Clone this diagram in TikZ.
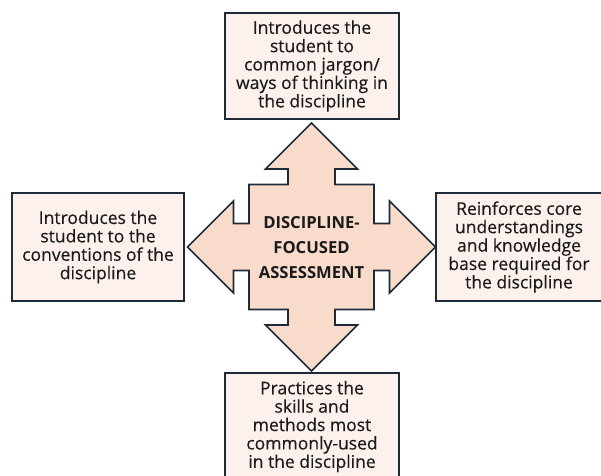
\documentclass[tikz,border=0pt]{standalone}
\usepackage{fontspec}
\setmainfont{Open Sans}
\newfontfamily\boxfont{Open Sans}[FakeBold=0.3]
\definecolor{boxfill}{HTML}{FCF1EC}
\definecolor{centerfill}{HTML}{F9DBCB}
\definecolor{edge}{HTML}{1F2A38}
\definecolor{txt}{HTML}{1A1A1A}
\tikzset{
  infobox/.style={draw=edge, line width=1.6pt, fill=boxfill, rectangle, align=center,
    inner sep=0pt, text=txt, font=\boxfont\fontsize{17.5}{18.4}\selectfont},
  centertext/.style={align=center, inner sep=0pt, text=txt,
    font=\fontsize{16.6}{25}\selectfont\bfseries},
  cross/.style={draw=edge, line width=1.6pt, fill=centerfill, line join=miter}
}
\begin{document}
\begin{tikzpicture}[x=1pt, y=-1pt]
\useasboundingbox (0,0) rectangle (601,475);
\clip (0,0) rectangle (601,475);
% boxes
\node[infobox, minimum width=174pt, minimum height=106pt] (topbox) at (312,66)
  {Introduces the\\student to\\common jargon/\\ways of thinking in\\the discipline};
\node[infobox, minimum width=172pt, minimum height=108pt] (leftbox) at (98,247)
  {Introduces the\\student to the\\conventions of the\\discipline};
\node[infobox, minimum width=166pt, minimum height=108pt] (rightbox) at (519,247)
  {Reinforces core\\understandings\\and knowledge\\base required for\\the discipline};
\node[infobox, minimum width=174pt, minimum height=107pt] (bottombox) at (312,426.5)
  {Practices the\\skills and\\methods most\\commonly-used\\in the discipline};
% central four-way arrow
\begin{scope}[shift={(311.5,247)}]
\draw[cross] (0,-124) -- (46,-78) -- (23.5,-78) -- (23.5,-62.5) -- (62.5,-62.5) -- (62.5,-23.5)
  -- (78,-23.5) -- (78,-46) -- (124,0) -- (78,46) -- (78,23.5) -- (62.5,23.5) -- (62.5,62.5)
  -- (23.5,62.5) -- (23.5,78) -- (46,78) -- (0,124) -- (-46,78) -- (-23.5,78) -- (-23.5,62.5)
  -- (-62.5,62.5) -- (-62.5,23.5) -- (-78,23.5) -- (-78,46) -- (-124,0) -- (-78,-46)
  -- (-78,-23.5) -- (-62.5,-23.5) -- (-62.5,-62.5) -- (-23.5,-62.5) -- (-23.5,-78)
  -- (-46,-78) -- cycle;
\node[centertext] (center) at (0,1) {DISCIPLINE-\\FOCUSED\\ASSESSMENT};
\end{scope}
\end{tikzpicture}
\end{document}
